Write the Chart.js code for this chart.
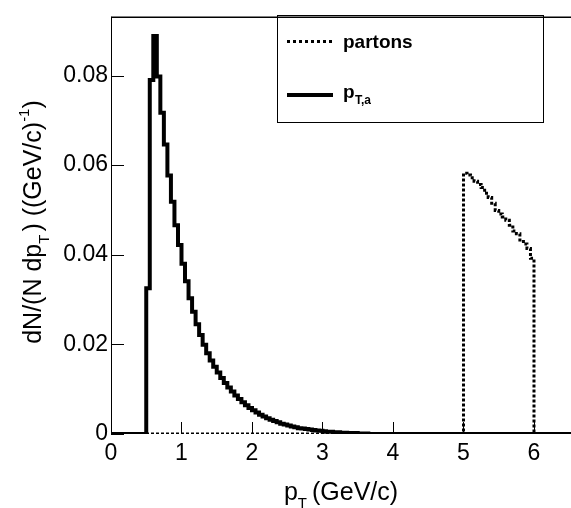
<!DOCTYPE html>
<html>
<head>
<meta charset="utf-8">
<script src="https://cdn.jsdelivr.net/npm/chart.js@4"></script>
<style>
  html, body { margin: 0; padding: 0; background: #fff; }
  #wrap { width: 571px; height: 508px; }
</style>
</head>
<body>
<div id="wrap"><canvas id="histo" width="571" height="508"></canvas></div>
<script>
// histogram contents, bins are 0.05 GeV/c wide
const binWidth = 0.05;

// p_T,a (solid), first filled bin starts at 0.5
const ptaStart = 0.5;
const ptaValues = [
  0.0325, 0.0790, 0.0888, 0.0798, 0.0717, 0.0646, 0.0577, 0.0518, 0.0466, 0.0422,
  0.0380, 0.0341, 0.0303, 0.0273, 0.0245, 0.0221, 0.0199, 0.0180, 0.0164, 0.0150,
  0.0137, 0.0125, 0.0114, 0.0104, 0.0095, 0.0086, 0.0078, 0.0071, 0.0064, 0.0058,
  0.0053, 0.0048, 0.0043, 0.0039, 0.0035, 0.0032, 0.0029, 0.0026, 0.0023, 0.0021,
  0.0019, 0.0017, 0.0015, 0.0013, 0.0012, 0.0011, 0.0010, 0.0009, 0.0008, 0.0007,
  0.0006, 0.0005, 0.0005, 0.0004, 0.0004, 0.0003, 0.0003, 0.0002, 0.0002, 0.0002,
  0.0001, 0.0001, 0.0001
];

// partons (dotted), filled between 5 and 6
const partonStart = 5.0;
const partonValues = [
  0.0582, 0.0578, 0.0572, 0.0564, 0.0557, 0.0550, 0.0537, 0.0528, 0.0515, 0.0499,
  0.0491, 0.0484, 0.0477, 0.0466, 0.0453, 0.0447, 0.0433, 0.0424, 0.0414, 0.0392
];

const xTicks = [0, 1, 2, 3, 4, 5, 6];
const xTickLabels = ["0", "1", "2", "3", "4", "5", "6"];
const yTicks = [0, 0.02, 0.04, 0.06, 0.08];
const yTickLabels = ["0", "0.02", "0.04", "0.06", "0.08"];

const xMin = 0, xMax = 6.525;
const yMin = 0, yMax = 0.0931;

const FONT = "'Liberation Sans', Arial, Helvetica, sans-serif";

// bin contents -> step points (stepped: 'before' = flat, then jump)
function histPoints(start, values) {
  let pts = [{ x: xMin, y: 0 }];
  for (let i = 0; i < values.length; i++) {
    let edge = Math.round((start + i * binWidth) * 1000) / 1000;
    pts.push({ x: edge, y: values[i] });
  }
  let end = Math.round((start + values.length * binWidth) * 1000) / 1000;
  pts.push({ x: end, y: 0 });
  pts.push({ x: xMax, y: 0 });
  return pts;
}

// text pieces with sub/superscripts, centred on x
function drawRich(ctx, parts, x, y) {
  let total = 0;
  parts.forEach(p => {
    ctx.font = (p.bold ? "bold " : "") + p.size + "px " + FONT;
    p.w = ctx.measureText(p.t).width;
    total += p.w + (p.gap || 0);
  });
  let cx = x - total / 2;
  ctx.textBaseline = "alphabetic";
  ctx.textAlign = "left";
  parts.forEach(p => {
    ctx.font = (p.bold ? "bold " : "") + p.size + "px " + FONT;
    ctx.fillText(p.t, cx, y + (p.dy || 0));
    cx += p.w + (p.gap || 0);
  });
}

const frame = {
  id: "frame",
  afterDatasetsDraw(chart) {
    const ctx = chart.ctx;
    const a = chart.chartArea;
    const xs = chart.scales.x, ys = chart.scales.y;
    ctx.save();
    ctx.strokeStyle = "#000";
    // frame
    ctx.lineWidth = 1;
    ctx.beginPath();
    ctx.moveTo(a.left + 0.5, a.bottom);
    ctx.lineTo(a.left + 0.5, a.top);
    ctx.stroke();
    ctx.lineWidth = 1.5;
    ctx.beginPath();
    ctx.moveTo(a.left, a.top + 0.5);
    ctx.lineTo(a.right, a.top + 0.5);
    ctx.stroke();
    // inner ticks
    ctx.lineWidth = 1;
    yTicks.forEach(v => {
      let py = Math.round(ys.getPixelForValue(v)) + 0.5;
      ctx.beginPath();
      ctx.moveTo(a.left, py);
      ctx.lineTo(a.left + 13, py);
      ctx.stroke();
    });
    xTicks.forEach(v => {
      let px = Math.round(xs.getPixelForValue(v)) + 0.5;
      ctx.beginPath();
      ctx.moveTo(px, a.bottom);
      ctx.lineTo(px, a.bottom - 12);
      ctx.stroke();
    });

    // legend box
    ctx.lineWidth = 1;
    ctx.strokeRect(277.5, 15.5, 266, 107);
    ctx.lineWidth = 3;
    ctx.setLineDash([3, 3]);
    ctx.beginPath();
    ctx.moveTo(287, 41.5);
    ctx.lineTo(333, 41.5);
    ctx.stroke();
    ctx.setLineDash([]);
    ctx.lineWidth = 4;
    ctx.beginPath();
    ctx.moveTo(287, 95);
    ctx.lineTo(333, 95);
    ctx.stroke();
    ctx.fillStyle = "#000";
    ctx.font = "bold 19px " + FONT;
    ctx.textAlign = "left";
    ctx.textBaseline = "alphabetic";
    ctx.fillText("partons", 343, 48);
    ctx.fillText("p", 343, 98);
    ctx.font = "bold 12px " + FONT;
    ctx.fillText("T,a", 355, 104);

    // axis titles
    drawRich(ctx, [
      { t: "p", size: 25 },
      { t: "T", size: 15, dy: 8, gap: 5 },
      { t: "(GeV/c)", size: 25 }
    ], 341, 500);

    ctx.translate(41, 222);
    ctx.rotate(-Math.PI / 2);
    drawRich(ctx, [
      { t: "dN/(N dp", size: 25 },
      { t: "T", size: 15, dy: 8, gap: 3 },
      { t: ") ((GeV/c)", size: 25 },
      { t: "-1", size: 15, dy: -12 },
      { t: ")", size: 25 }
    ], 0, 0);
    ctx.restore();
  }
};

new Chart(document.getElementById("histo"), {
  type: "line",
  data: {
    datasets: [
      {
        label: "p_T,a",
        data: histPoints(ptaStart, ptaValues),
        stepped: "before",
        borderColor: "#000",
        borderWidth: 4,
        fill: false,
        order: 0
      },
      {
        label: "partons",
        data: histPoints(partonStart, partonValues),
        stepped: "before",
        borderColor: "#000",
        borderWidth: 3,
        borderDash: [3, 2],
        fill: false,
        order: 1
      }
    ]
  },
  options: {
    responsive: false,
    animation: false,
    devicePixelRatio: 1,
    layout: { padding: { top: 9.5, right: 0, bottom: 0, left: 0 } },
    elements: { point: { radius: 0 }, line: { tension: 0 } },
    plugins: { legend: { display: false }, tooltip: { enabled: false } },
    scales: {
      x: {
        type: "linear",
        min: xMin,
        max: xMax,
        afterBuildTicks: s => { s.ticks = xTicks.map(v => ({ value: v })); },
        afterFit: s => { s.height = 74; },
        grid: { display: false, drawTicks: false },
        border: { display: false },
        ticks: {
          color: "#000",
          padding: 6,
          maxRotation: 0,
          autoSkip: false,
          font: { family: FONT, size: 23 },
          callback: (v, i) => xTickLabels[i]
        }
      },
      y: {
        type: "linear",
        min: yMin,
        max: yMax,
        afterBuildTicks: s => { s.ticks = yTicks.map(v => ({ value: v })); },
        afterFit: s => { s.width = 111; },
        grid: { display: false, drawTicks: false },
        border: { display: false },
        ticks: {
          color: "#000",
          padding: 3,
          autoSkip: false,
          font: { family: FONT, size: 23 },
          callback: (v, i) => yTickLabels[i]
        }
      }
    }
  },
  plugins: [frame]
});
</script>
</body>
</html>
